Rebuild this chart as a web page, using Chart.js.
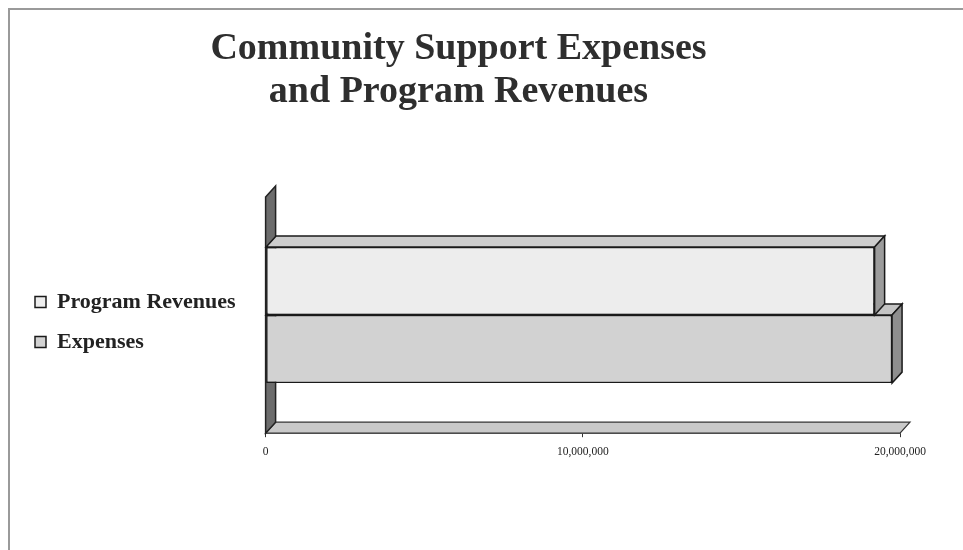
<!DOCTYPE html>
<html>
<head>
<meta charset="utf-8">
<script src="https://cdn.jsdelivr.net/npm/chart.js@4/dist/chart.umd.min.js"></script>
<style>
  html, body { margin: 0; padding: 0; background: #ffffff; }
  #wrap { position: relative; width: 963px; height: 550px; }
  #frame { position: absolute; left: 8px; top: 8px; right: 0; bottom: 0; border-left: 2px solid #9a9a9a; border-top: 2px solid #9a9a9a; }
  canvas { position: absolute; left: 0; top: 0; }
</style>
</head>
<body>
<div id="wrap">
  <div id="frame"></div>
  <canvas id="c" width="963" height="550"></canvas>
</div>
<script>
// ---- data ----
const categories = ['Community Support'];
const seriesNames = ['Program Revenues', 'Expenses'];
const programRevenues = [19200000];
const expenses = [19750000];
const tickValues = [0, 10000000, 20000000];
const titleLines = ['Community Support Expenses', 'and Program Revenues'];

// ---- 3D look ----
const DX = 10, DY = -11;
function poly(ctx, pts, fill, stroke, lw) {
  ctx.beginPath();
  ctx.moveTo(pts[0][0], pts[0][1]);
  for (let i = 1; i < pts.length; i++) ctx.lineTo(pts[i][0], pts[i][1]);
  ctx.closePath();
  ctx.fillStyle = fill; ctx.fill();
  ctx.strokeStyle = stroke; ctx.lineWidth = lw; ctx.stroke();
}
const sideColors = [
  { top: '#cdcdcd', side: '#9c9c9c' },
  { top: '#c4c4c4', side: '#8e8e8e' }
];
const threeD = {
  id: 'threeD',
  afterLayout(chart) {
    const ca = chart.chartArea, lg = chart.legend;
    const shift = (ca.top + ca.bottom) / 2 + 7 - (lg.top + lg.bottom) / 2;
    lg.top += shift;
    lg.bottom += shift;
  },
  beforeDatasetsDraw(chart) {
    const ctx = chart.ctx, a = chart.chartArea;
    const xs = chart.scales.x;
    const L = xs.getPixelForValue(0), R = xs.getPixelForValue(20000000);
    ctx.save();
    // floor
    poly(ctx, [[L, a.bottom], [L + DX, a.bottom + DY], [R + DX, a.bottom + DY], [R, a.bottom]], '#c9c9c9', '#333', 1.2);
    // wall
    poly(ctx, [[L, a.top], [L + DX, a.top + DY], [L + DX, a.bottom + DY], [L, a.bottom]], '#6c6c6c', '#222', 1.5);
    ctx.restore();
  },
  afterDatasetDraw(chart, args) {
    const ctx = chart.ctx;
    const meta = args.meta;
    const col = sideColors[args.index];
    ctx.save();
    meta.data.forEach(bar => {
      const p = bar.getProps(['x', 'y', 'base', 'height'], true);
      const x0 = Math.min(p.base, p.x), x1 = Math.max(p.base, p.x);
      const y0 = p.y - p.height / 2, y1 = p.y + p.height / 2;
      poly(ctx, [[x0, y0], [x0 + DX, y0 + DY], [x1 + DX, y0 + DY], [x1, y0]], col.top, '#1a1a1a', 1.5);
      poly(ctx, [[x1, y0], [x1 + DX, y0 + DY], [x1 + DX, y1 + DY], [x1, y1]], col.side, '#1a1a1a', 1.5);
    });
    ctx.restore();
  }
};

new Chart(document.getElementById('c'), {
  type: 'bar',
  data: {
    labels: categories,
    datasets: [
      { label: seriesNames[0], data: programRevenues, backgroundColor: '#ededed', borderColor: '#1a1a1a', borderWidth: 1.5, borderSkipped: false },
      { label: seriesNames[1], data: expenses, backgroundColor: '#d2d2d2', borderColor: '#1a1a1a', borderWidth: 1.5, borderSkipped: false }
    ]
  },
  options: {
    indexAxis: 'y',
    responsive: false,
    animation: false,
    datasets: { bar: { categoryPercentage: 0.576, barPercentage: 1.0 } },
    layout: { padding: { left: 17, right: 63, top: 0, bottom: 83 } },
    scales: {
      y: {
        display: true,
        ticks: { display: false },
        grid: { display: false, drawTicks: false },
        border: { display: false },
        afterFit(s) { s.width = 20; }
      },
      x: {
        min: 0, max: 20000000,
        afterBuildTicks(scale) { scale.ticks = tickValues.map(v => ({ value: v })); },
        ticks: {
          callback: v => Number(v).toLocaleString('en-US'),
          font: { family: 'Liberation Serif', size: 11.5 },
          color: '#222',
          padding: 8,
          maxRotation: 0,
          autoSkip: false
        },
        grid: { display: true, drawOnChartArea: false, drawTicks: true, tickLength: 4, color: '#333', lineWidth: 1 },
        border: { display: true, color: '#222', width: 1.5 }
      }
    },
    plugins: {
      title: {
        display: true,
        text: titleLines,
        color: '#2e2e2e',
        font: { family: 'Liberation Serif', size: 38, weight: 'bold', lineHeight: 1.13 },
        padding: { top: 28, bottom: 83 }
      },
      legend: {
        position: 'left',
        align: 'center',
        maxWidth: 249,
        labels: {
          boxWidth: 11, boxHeight: 11, padding: 18,
          color: '#222',
          font: { family: 'Liberation Serif', size: 22, weight: 'bold' }
        }
      },
      tooltip: { enabled: false }
    }
  },
  plugins: [threeD]
});
</script>
</body>
</html>
